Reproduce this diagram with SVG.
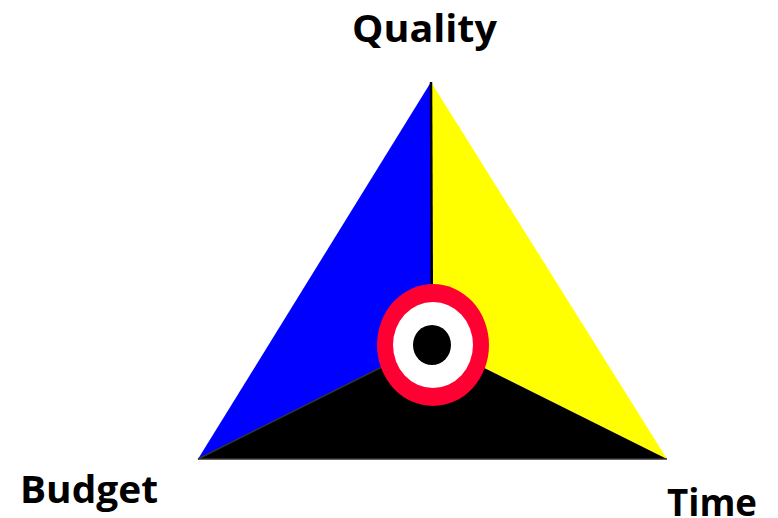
<svg xmlns="http://www.w3.org/2000/svg" width="778" height="518" viewBox="0 0 778 518">
<style>
.lbl{font-family:"Open Sans",Lato,"Liberation Sans",sans-serif;font-weight:bold;font-size:38px;fill:#000}
.edge{stroke:#333;stroke-width:1.5;fill:none}
</style>
<rect width="778" height="518" fill="#fff"/>
<g id="triangle">
<polygon points="431,82 198,459 432,342" fill="#0000ff"/>
<polygon points="431,82 667,459 432,342" fill="#ffff00"/>
<polygon points="198,459 432,342 667,459" fill="#000"/>
</g>
<g id="connectors">
<line x1="431" y1="82" x2="432" y2="342" style="stroke:#000;stroke-width:2.5"/>
<line class="edge" x1="198" y1="459" x2="432" y2="342"/>
<line class="edge" x1="198" y1="459" x2="667" y2="459"/>
</g>
<g id="target">
<ellipse cx="433" cy="345" rx="56" ry="61" fill="#ff0033"/>
<ellipse cx="433" cy="345" rx="40" ry="43" fill="#fff"/>
<ellipse cx="432" cy="345" rx="19" ry="20" fill="#000"/>
</g>
<g id="quality"><text class="lbl" x="352" y="42" textLength="145" lengthAdjust="spacingAndGlyphs">Quality</text></g>
<g id="budget"><text class="lbl" x="20" y="503" textLength="138" lengthAdjust="spacingAndGlyphs">Budget</text></g>
<g id="time"><text class="lbl" x="667" y="516" textLength="90" lengthAdjust="spacingAndGlyphs">Time</text></g>
</svg>
